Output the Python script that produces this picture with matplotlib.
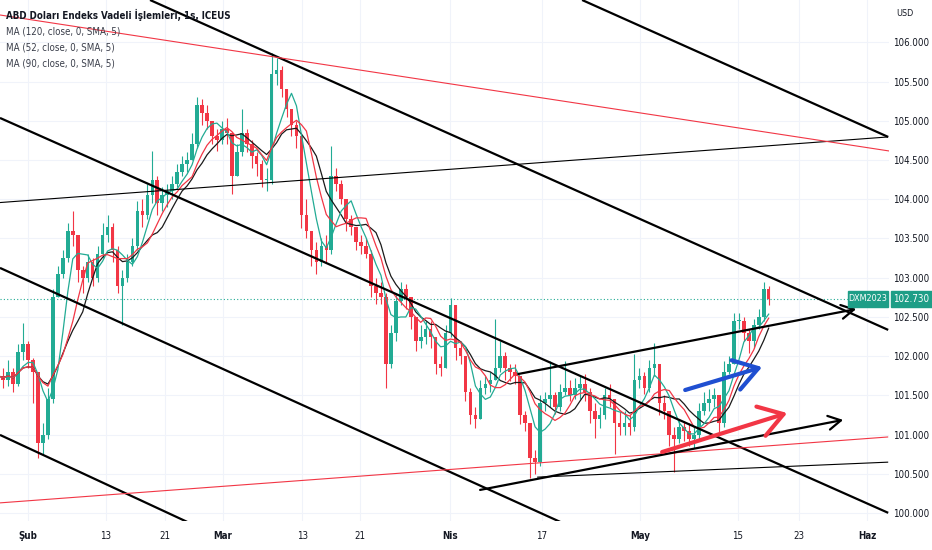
import numpy as np
import pandas as pd
import matplotlib
matplotlib.use('Agg')
import matplotlib.pyplot as plt
from matplotlib.patches import Rectangle
from matplotlib import transforms, font_manager

# TradingView uses a narrow face, pick the narrowest one that is installed
fonts = font_manager.fontManager.ttflist
names = {f.name for f in fonts}
if 'Liberation Sans Narrow' in names:
    plt.rcParams['font.family'] = ['Liberation Sans Narrow', 'DejaVu Sans']
    note = 'narrow'
elif any(f.name == 'DejaVu Sans' and str(f.stretch) in ('condensed', 'semi-condensed', '87.5', '75')
         for f in fonts):
    plt.rcParams['font.family'] = ['DejaVu Sans']
    plt.rcParams['font.stretch'] = 'condensed'
    note = 'condensed'
else:
    plt.rcParams['font.family'] = ['Liberation Sans', 'DejaVu Sans']
    note = 'plain'

# half-day candles, trading-day index (Feb 1 = 0), first candle Jan 27
start_day = -3.0
step = 0.5
first_open = 101.70
closes = [
    101.75, 101.70, 101.80, 101.65, 102.05, 102.15, 101.95, 101.80, 100.90, 101.00,
    101.45, 102.75, 103.05, 103.25, 103.60, 103.55, 103.10, 103.00, 103.20, 103.00,
    103.30, 103.55, 103.65, 103.35, 102.90, 103.00, 103.20, 103.40, 103.85, 103.80,
    104.05, 104.25, 103.95, 104.05, 104.10, 104.20, 104.35, 104.45, 104.50, 104.70,
    105.20, 105.10, 105.00, 104.80, 104.75, 104.90, 104.85, 104.30, 104.60, 104.85,
    104.70, 104.55, 104.45, 104.25, 104.25, 105.60, 105.65, 105.40, 105.15, 104.95,
    104.80, 103.80, 103.60, 103.35, 103.20, 103.40, 103.35, 104.30, 104.20, 104.00,
    103.75, 103.65, 103.45, 103.40, 103.30, 102.90, 102.80, 102.75, 101.90, 102.30,
    102.70, 102.85, 102.75, 102.50, 102.20, 102.25, 102.35, 102.25, 101.90, 101.85,
    102.30, 102.65, 102.10, 102.00, 101.55, 101.25, 101.20, 101.60, 101.65, 101.70,
    101.85, 102.00, 101.85, 101.80, 101.75, 101.25, 101.15, 100.70, 100.65, 101.40,
    101.45, 101.50, 101.35, 101.55, 101.60, 101.50, 101.60, 101.65, 101.55, 101.30,
    101.20, 101.25, 101.50, 101.45, 101.15, 101.10, 101.15, 101.10, 101.70, 101.75,
    101.60, 101.85, 101.90, 101.40, 101.30, 101.00, 100.95, 101.10, 101.05, 100.95,
    101.00, 101.30, 101.40, 101.45, 101.50, 101.15, 101.80, 101.90, 102.45, 102.45,
    102.30, 102.20, 102.40, 102.50, 102.85, 102.73,
]
highs = [
    101.85, 101.85, 101.95, 101.85, 102.15, 102.42, 102.20, 101.98, 101.80, 101.15,
    101.60, 102.85, 103.15, 103.35, 103.70, 103.85, 103.55, 103.15, 103.30, 103.25,
    103.40, 103.70, 103.80, 103.70, 103.40, 103.10, 103.30, 103.50, 103.98, 104.00,
    104.20, 104.62, 104.30, 104.15, 104.20, 104.30, 104.45, 104.55, 104.60, 104.85,
    105.30, 105.28, 105.20, 105.00, 104.90, 105.00, 105.04, 104.85, 104.70, 105.15,
    104.90, 104.75, 104.60, 104.50, 104.40, 105.86, 105.80, 105.70, 105.40, 105.15,
    105.00, 104.85, 104.00, 103.60, 103.45, 103.50, 103.55, 104.68, 104.40, 104.25,
    103.95, 103.80, 103.65, 103.55, 103.50, 103.35, 103.00, 102.95, 102.80, 102.40,
    102.80, 102.95, 102.92, 102.75, 102.50, 102.40, 102.45, 102.45, 102.25, 102.00,
    102.40, 102.74, 102.65, 102.20, 102.00, 101.60, 101.35, 101.70, 101.75, 101.80,
    102.47, 102.20, 102.05, 101.90, 101.90, 101.75, 101.30, 101.15, 100.80, 101.50,
    101.55, 101.94, 101.55, 101.65, 101.94, 101.70, 101.72, 101.75, 101.77, 101.60,
    101.40, 101.35, 101.60, 101.65, 101.45, 101.30, 101.30, 101.25, 102.03, 101.85,
    101.80, 101.95, 102.17, 101.90, 101.50, 101.30, 101.10, 101.20, 101.17, 101.15,
    101.10, 101.40, 101.55, 101.58, 101.60, 101.50, 101.94, 102.00, 102.55, 102.55,
    102.50, 102.35, 102.48, 102.60, 102.95, 102.90,
]
lows = [
    101.60, 101.60, 101.62, 101.55, 101.62, 101.95, 101.85, 101.40, 100.70, 100.75,
    100.95, 101.40, 102.85, 103.00, 103.20, 103.40, 102.95, 102.80, 102.95, 102.90,
    102.95, 103.25, 103.45, 103.20, 102.80, 102.40, 102.95, 103.15, 103.35, 103.65,
    103.75, 103.95, 103.80, 103.85, 103.90, 104.00, 104.15, 104.30, 104.35, 104.55,
    104.65, 104.95, 104.90, 104.70, 104.62, 104.70, 104.70, 104.07, 104.30, 104.55,
    104.60, 104.40, 104.30, 104.15, 104.10, 104.20, 105.45, 105.30, 105.05, 104.80,
    104.65, 103.64, 103.50, 103.15, 103.05, 103.15, 103.20, 103.30, 104.10, 103.94,
    103.60, 103.55, 103.35, 103.30, 103.25, 102.75, 102.67, 102.67, 101.60, 101.85,
    102.20, 102.65, 102.60, 102.35, 102.07, 102.10, 102.15, 102.10, 101.77, 101.75,
    101.85, 102.25, 101.95, 101.90, 101.43, 101.13, 101.09, 101.20, 101.52, 101.55,
    101.70, 101.80, 101.70, 101.68, 101.65, 101.13, 101.05, 100.45, 100.50, 100.60,
    101.30, 101.35, 101.26, 101.30, 101.50, 101.43, 101.45, 101.45, 101.43, 101.15,
    100.96, 101.08, 101.20, 101.35, 100.75, 101.00, 101.00, 101.00, 101.05, 101.60,
    101.52, 101.55, 101.75, 101.25, 101.20, 100.85, 100.53, 100.90, 100.92, 100.85,
    100.83, 100.95, 101.25, 101.30, 101.35, 101.00, 101.10, 101.77, 101.90, 102.35,
    102.20, 102.04, 102.10, 102.35, 102.45, 102.65,
]

date_ticks = [0, 7.85, 13.8, 19.6, 27.6, 33.4, 42.4, 51.7, 61.6, 71.4, 77.5, 84.4]
date_labels = ['Şub', '13', '21', 'Mar', '13', '21', 'Nis', '17', 'May', '15', '23', 'Haz']
month_names = ['Şub', 'Mar', 'Nis', 'May', 'Haz']
price_ticks = [100.0, 100.5, 101.0, 101.5, 102.0, 102.5, 103.0, 103.5,
               104.0, 104.5, 105.0, 105.5, 106.0]

# (legend text, window in half-day bars, colour)
ma_specs = [
    ('MA (120, close, 0, SMA, 5)', 10, '#1a1a1a'),
    ('MA (52, close, 0, SMA, 5)', 5, '#22ab94'),
    ('MA (90, close, 0, SMA, 5)', 8, '#f23645'),
]

title = 'ABD Doları Endeks Vadeli İşlemleri, 1s, ICEUS'
symbol = 'DXM2023'

# hand drawn lines: (day0, price0, day1, price1, colour, width)
trend_lines = [
    (55.73, 106.539, 86.52, 104.794, 'black', 1.6),
    (12.27, 106.539, 86.52, 102.335, 'black', 1.6),
    (-2.82, 105.036, 86.52, 100.004, 'black', 1.6),
    (-2.82, 103.125, 53.52, 99.889, 'black', 1.6),
    (-2.82, 100.997, 16.00, 99.889, 'black', 1.6),
    (-2.82, 103.958, 86.52, 104.794, 'black', 0.8),
    (-2.82, 106.348, 86.62, 104.615, '#f23645', 0.8),
    (-2.82, 100.131, 86.52, 100.971, '#f23645', 0.8),
    (51.21, 100.459, 86.52, 100.650, 'black', 0.8),
]
# arrows: (day0, price0, day1, price1, colour, width, head length, head width)
arrows = [
    (45.47, 100.296, 81.99, 101.188, 'black', 1.6, 0.9, 0.5),
    (49.30, 101.773, 83.30, 102.601, 'black', 1.6, 0.9, 0.5),
    (66.10, 101.569, 73.84, 101.862, '#1f4fd1', 3.0, 1.7, 1.1),
    (63.78, 100.779, 76.36, 101.276, '#f23645', 3.0, 1.7, 1.1),
]

up_col = '#22ab94'
down_col = '#f23645'
text_col = '#131722'
grid_col = '#f0f3fa'

if note == 'plain':
    fs_title, fs_tick = 6.4, 6.5
else:
    fs_title, fs_tick = 7.0, 7.0

fig = plt.figure(figsize=(9.32, 5.5), dpi=100)
ax = fig.add_axes([0, 1 - 521 / 550, 889 / 932, 521 / 550])

c = np.array(closes)
h = np.array(highs)
l = np.array(lows)
o = np.concatenate([[first_open], c[:-1]])
t = start_day + step * np.arange(len(c))
up = c >= o
cols = np.where(up, up_col, down_col)

hi = np.maximum(h, np.maximum(o, c))
lo = np.minimum(l, np.minimum(o, c))
ax.vlines(t, lo, hi, colors=cols, lw=0.8, zorder=2)
body = np.maximum(np.abs(c - o), 0.012)
ax.bar(t, body, bottom=np.minimum(o, c), width=0.36, color=cols, lw=0, zorder=2)

s = pd.Series(c)
for name, win, col in ma_specs:
    ax.plot(t, s.rolling(win, min_periods=1).mean(), color=col, lw=0.9, zorder=3)

for d0, p0, d1, p1, col, w in trend_lines:
    ax.plot([d0, d1], [p0, p1], color=col, lw=w, zorder=4, solid_capstyle='butt')

for d0, p0, d1, p1, col, w, hl, hw in arrows:
    ax.annotate('', xy=(d1, p1), xytext=(d0, p0),
                arrowprops=dict(arrowstyle=f'->,head_length={hl},head_width={hw}',
                                color=col, lw=w, shrinkA=0, shrinkB=0,
                                mutation_scale=10),
                zorder=5)

last = closes[-1]
ax.axhline(last, color=up_col, lw=0.8, ls=(0, (1, 2)), zorder=1)

ax.set_xlim(-2.82, 86.6)
ax.set_ylim(99.90, 106.539)

ax.set_xticks(date_ticks)
ax.set_xticklabels(date_labels)
for lab in ax.get_xticklabels():
    if lab.get_text() in month_names:
        lab.set_fontweight('bold')
ax.set_yticks(price_ticks)
ax.set_yticklabels([f'{p:.3f}' for p in price_ticks])
ax.yaxis.tick_right()
ax.tick_params(axis='y', length=0, pad=3, labelsize=fs_tick, colors=text_col)
ax.tick_params(axis='x', length=0, pad=7, labelsize=fs_tick, colors=text_col)
ax.grid(True, color=grid_col, lw=0.8, zorder=0)
ax.set_axisbelow(True)
for sp in ax.spines.values():
    sp.set_visible(False)

# price tags on the right
tr = transforms.blended_transform_factory(ax.transAxes, ax.transData)
bh = 16 / 78.5
ax.add_patch(Rectangle((848 / 889, last - bh / 2), 40 / 889, bh, transform=tr,
                       color='#1e9e87', clip_on=False, zorder=6))
ax.add_patch(Rectangle((891 / 889, last - bh / 2), 41 / 889, bh, transform=tr,
                       color='#1e9e87', clip_on=False, zorder=6))
ax.text(868 / 889, last, symbol, transform=tr, ha='center', va='center',
        color='white', fontsize=fs_tick - 0.5, clip_on=False, zorder=7)
ax.text(911 / 889, last, f'{last:.3f}', transform=tr, ha='center', va='center',
        color='white', fontsize=fs_tick, clip_on=False, zorder=7)

fig.text(896 / 932, 1 - 13 / 550, 'USD', fontsize=fs_tick - 0.5, color=text_col, va='center')
fig.text(6 / 932, 1 - 15 / 550, title, fontsize=fs_title, fontweight='bold',
         color=text_col, va='center')
for i, (name, win, col) in enumerate(ma_specs):
    fig.text(6 / 932, 1 - (32 + 16 * i) / 550, name, fontsize=fs_title,
             color='#3a3e4a', va='center')

fig.savefig('out.png', dpi=100)
